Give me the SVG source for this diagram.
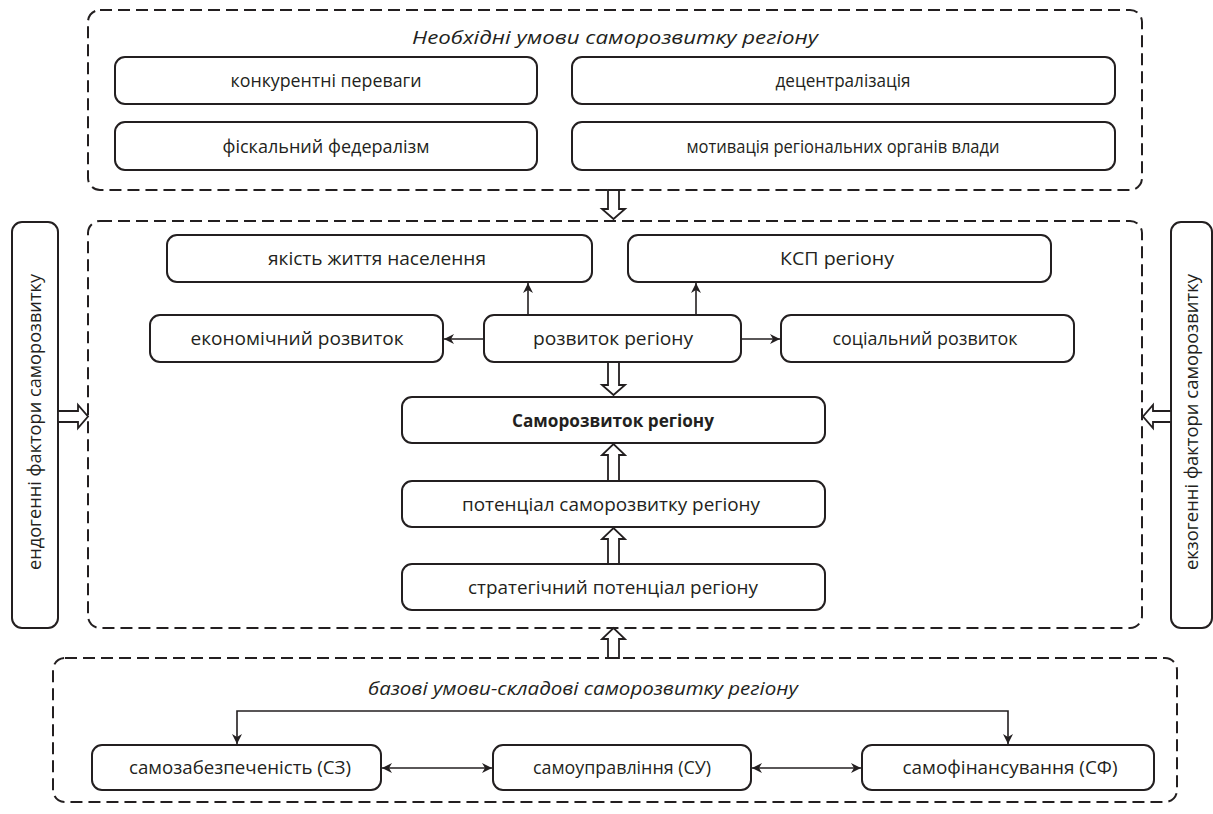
<svg xmlns="http://www.w3.org/2000/svg" width="1213" height="814" viewBox="0 0 1213 814">
<style>
.dash{fill:none;stroke:#231f20;stroke-width:2;stroke-dasharray:12 6}
.box{fill:#fff;stroke:#231f20;stroke-width:2}
.t{font-family:"Open Sans","Liberation Sans",sans-serif;font-size:18.5px;fill:#231f20;text-anchor:middle}
.it{font-style:italic}
.b{font-weight:bold}
.ln{fill:none;stroke:#231f20;stroke-width:1.6}
.ha{fill:#fff;stroke:#231f20;stroke-width:1.8;stroke-linejoin:miter}
</style>
<defs>
<marker id="ah" markerUnits="userSpaceOnUse" markerWidth="12" markerHeight="10" refX="10" refY="5" orient="auto-start-reverse">
<path d="M0,0 L10,5 L0,10 L3,5 Z" fill="#231f20"/>
</marker>
</defs>
<g id="top-group">
<rect class="dash" x="88" y="10" width="1054" height="180" rx="12"/>
<text class="t it" x="615" y="44" textLength="406" lengthAdjust="spacingAndGlyphs">Необхідні умови саморозвитку регіону</text>
</g>
<g id="n-konk"><rect class="box" x="115" y="57" width="422" height="47" rx="10"/><text class="t" x="326" y="87" textLength="191" lengthAdjust="spacingAndGlyphs">конкурентні переваги</text></g>
<g id="n-dec"><rect class="box" x="572" y="57" width="543" height="47" rx="10"/><text class="t" x="843" y="87" textLength="135" lengthAdjust="spacingAndGlyphs">децентралізація</text></g>
<g id="n-fisk"><rect class="box" x="115" y="122" width="422" height="48" rx="10"/><text class="t" x="326" y="153" textLength="207" lengthAdjust="spacingAndGlyphs">фіскальний федералізм</text></g>
<g id="n-motiv"><rect class="box" x="572" y="122" width="543" height="48" rx="10"/><text class="t" x="843" y="153" textLength="313" lengthAdjust="spacingAndGlyphs">мотивація регіональних органів влади</text></g>
<g id="mid-group"><rect class="dash" x="88" y="221" width="1054" height="407" rx="12"/></g>
<g id="n-endo"><rect class="box" x="12" y="222" width="46" height="406" rx="10"/><text class="t" transform="translate(41,422) rotate(-90)" textLength="296" lengthAdjust="spacingAndGlyphs">ендогенні фактори саморозвитку</text></g>
<g id="n-ekzo"><rect class="box" x="1171" y="222" width="41" height="406" rx="10"/><text class="t" transform="translate(1198,422) rotate(-90)" textLength="296" lengthAdjust="spacingAndGlyphs">екзогенні фактори саморозвитку</text></g>
<g id="n-yakist"><rect class="box" x="167" y="235" width="425" height="47" rx="10"/><text class="t" x="377" y="265" textLength="218" lengthAdjust="spacingAndGlyphs">якість життя населення</text></g>
<g id="n-ksp"><rect class="box" x="628" y="235" width="423" height="47" rx="10"/><text class="t" x="837" y="265" textLength="114" lengthAdjust="spacingAndGlyphs">КСП регіону</text></g>
<g id="n-ekon"><rect class="box" x="150" y="315" width="293" height="47" rx="10"/><text class="t" x="297" y="345" textLength="213" lengthAdjust="spacingAndGlyphs">економічний розвиток</text></g>
<g id="n-rozv"><rect class="box" x="484" y="315" width="257" height="47" rx="10"/><text class="t" x="613" y="345" textLength="160" lengthAdjust="spacingAndGlyphs">розвиток регіону</text></g>
<g id="n-soc"><rect class="box" x="781" y="315" width="293" height="47" rx="10"/><text class="t" x="925" y="345" textLength="185" lengthAdjust="spacingAndGlyphs">соціальний розвиток</text></g>
<g id="n-samo"><rect class="box" x="402" y="397" width="423" height="46" rx="10"/><text class="t b" x="613" y="427" textLength="202" lengthAdjust="spacingAndGlyphs">Саморозвиток регіону</text></g>
<g id="n-potenc"><rect class="box" x="402" y="481" width="423" height="46" rx="10"/><text class="t" x="611" y="511" textLength="298" lengthAdjust="spacingAndGlyphs">потенціал саморозвитку регіону</text></g>
<g id="n-strat"><rect class="box" x="402" y="564" width="423" height="46" rx="10"/><text class="t" x="613" y="594" textLength="290" lengthAdjust="spacingAndGlyphs">стратегічний потенціал регіону</text></g>
<g id="bottom-group">
<rect class="dash" x="53" y="658" width="1124" height="144" rx="12"/>
<text class="t it" x="583" y="695" textLength="430" lengthAdjust="spacingAndGlyphs">базові умови-складові саморозвитку регіону</text>
</g>
<g id="n-sz"><rect class="box" x="92" y="745" width="289" height="45" rx="10"/><text class="t" x="240" y="774" textLength="222" lengthAdjust="spacingAndGlyphs">самозабезпеченість (СЗ)</text></g>
<g id="n-su"><rect class="box" x="493" y="745" width="258" height="45" rx="10"/><text class="t" x="622" y="774" textLength="178" lengthAdjust="spacingAndGlyphs">самоуправління (СУ)</text></g>
<g id="n-sf"><rect class="box" x="862" y="745" width="292" height="45" rx="10"/><text class="t" x="1010" y="774" textLength="215" lengthAdjust="spacingAndGlyphs">самофінансування (СФ)</text></g>
<g id="connectors">
<line class="ln" x1="528" y1="315" x2="528" y2="283" marker-end="url(#ah)"/>
<line class="ln" x1="696" y1="315" x2="696" y2="283" marker-end="url(#ah)"/>
<line class="ln" x1="484" y1="339" x2="444" y2="339" marker-end="url(#ah)"/>
<line class="ln" x1="741" y1="339" x2="780" y2="339" marker-end="url(#ah)"/>
<polyline class="ln" points="237,744 237,711 1008,711 1008,744" marker-start="url(#ah)" marker-end="url(#ah)"/>
<line class="ln" x1="382" y1="768" x2="492" y2="768" marker-start="url(#ah)" marker-end="url(#ah)"/>
<line class="ln" x1="752" y1="768" x2="861" y2="768" marker-start="url(#ah)" marker-end="url(#ah)"/>
<path class="ha" d="M608,190 L619,190 L619,209 L625,209 L613.5,219 L602,209 L608,209 Z"/>
<path class="ha" d="M608,362 L619,362 L619,385 L625,385 L613.5,395 L602,385 L608,385 Z"/>
<path class="ha" d="M608,481 L619,481 L619,455 L625,455 L613.5,444 L602,455 L608,455 Z"/>
<path class="ha" d="M608,564 L619,564 L619,539 L625,539 L613.5,528 L602,539 L608,539 Z"/>
<path class="ha" d="M608,658 L619,658 L619,639 L625,639 L613.5,628 L602,639 L608,639 Z"/>
<path class="ha" d="M58,411 L58,422 L78,422 L78,428 L88,416.5 L78,405 L78,411 Z"/>
<path class="ha" d="M1171,411 L1171,422 L1153,422 L1153,428 L1143,416.5 L1153,405 L1153,411 Z"/>
</g>
</svg>
